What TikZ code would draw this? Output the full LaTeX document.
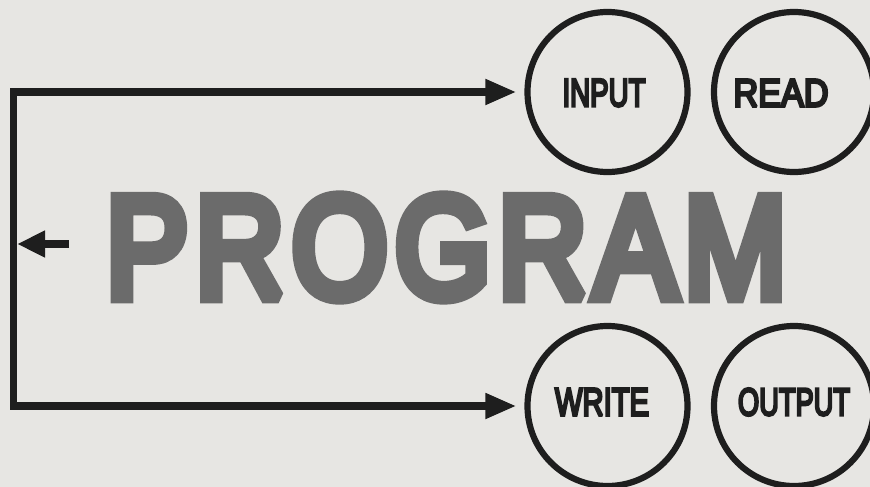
\documentclass[tikz,border=0pt]{standalone}
\usepackage{fontspec}
\usepackage{graphicx}
\usetikzlibrary{arrows.meta}
\font\progfnt="Liberation Sans:style=Bold;embolden=9" at 40pt
\font\labfnt="Liberation Sans:style=Bold;embolden=7" at 30pt
\definecolor{bgpaper}{HTML}{E7E6E3}
\definecolor{inkblack}{HTML}{1E1E1E}
\definecolor{proggray}{HTML}{6B6B6B}
\tikzset{
  unit/.style={circle, draw=inkblack, line width=6.2pt, minimum size=160pt, inner sep=0pt},
  lab/.style={text=inkblack, inner sep=0pt},
  conn/.style={draw=inkblack, line width=7.5pt, line join=miter},
}
\newcommand{\sharpjoin}{\pgfsetmiterjoin\pgfsetmiterlimit{2}}
\newcommand{\lbl}[2]{\resizebox{#1pt}{27pt}{\sharpjoin\labfnt #2}}
\newcommand{\gp}{\kern2.5pt}
\begin{document}
\begin{tikzpicture}[x=1pt,y=-1pt]
\fill[bgpaper] (0,0) rectangle (870,487);
\useasboundingbox (0,0) rectangle (870,487);
% circles
\node[unit] (input) at (607.5,92) {};
\node[unit] (read) at (794,92) {};
\node[unit] (write) at (607.5,406) {};
\node[unit] (output) at (794,406) {};
\node[lab] (inputl) at (604,93) {\lbl{83}{INPUT}};
\node[lab] (readl) at (781,93) {\lbl{95}{READ}};
\node[lab] (writel) at (602,402) {\lbl{94}{WRITE}};
\node[lab] (outputl) at (794,402) {\lbl{112}{OUTPUT}};
% big word
\node[text=proggray, inner sep=0pt, anchor=west] (prog) at (106,247.5)
  {\resizebox{680pt}{100pt}{\sharpjoin\progfnt P\gp R\gp O\gp G\gp R\gp A\gp M}};
% loop
\coordinate (ctop) at (13.5,92);
\coordinate (cbot) at (13.5,406);
\coordinate (lend) at (17,244);
\draw[conn, {Triangle[length=31pt,width=24pt]}-{Triangle[length=31pt,width=24pt]},
      shorten <=8pt, shorten >=8pt]
  (input.west) -- (ctop) -- (cbot) -- (write.west);
\draw[conn, line width=8pt, -{Triangle[length=28pt,width=25pt]}]
  (prog.west |- lend) ++(-37,0) coordinate (lstart) -- (lend);
\end{tikzpicture}
\end{document}
